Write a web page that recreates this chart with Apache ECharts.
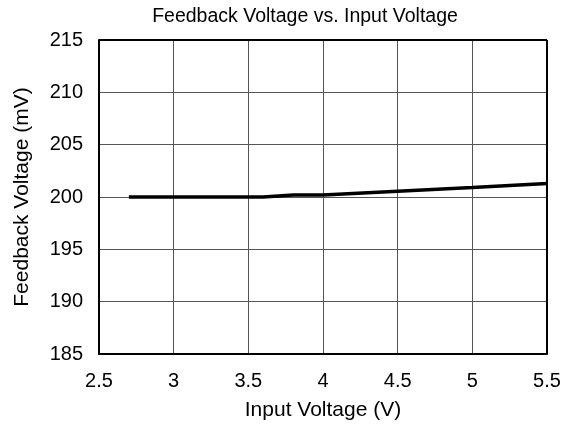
<!DOCTYPE html>
<html><head><meta charset="utf-8">
<script src="https://cdn.jsdelivr.net/npm/echarts@6/dist/echarts.min.js"></script>
<style>html,body{margin:0;padding:0;background:#fff}#c{width:574px;height:441px}</style>
</head><body><div id="c"></div>
<script>
var inputVoltage = [2.7, 3.0, 3.5, 3.6, 3.8, 4.0, 4.5, 5.0, 5.5];
var feedbackVoltage = [200.0, 200.0, 200.0, 200.0, 200.2, 200.2, 200.55, 200.9, 201.3];
var xTicks = [2.5, 3, 3.5, 4, 4.5, 5, 5.5];
var yTicks = [185, 190, 195, 200, 205, 210, 215];

var font = 'Liberation Sans, Arial, sans-serif';
var chart = echarts.init(document.getElementById('c'));
chart.setOption({
  animation: false,
  backgroundColor: '#fff',
  title: {
    text: 'Feedback Voltage vs. Input Voltage',
    left: 300, top: 2, textAlign: 'center',
    textStyle: {fontFamily: font, fontSize: 19.5, fontWeight: 'normal', color: '#000'}
  },
  grid: {left: 99, right: 27, top: 40, bottom: 87},
  xAxis: {
    type: 'value', min: 2.5, max: 5.5, interval: 0.5,
    name: 'Input Voltage (V)', nameLocation: 'middle', nameGap: 46,
    nameTextStyle: {fontFamily: font, fontSize: 21, color: '#000'},
    axisLine: {show: true, lineStyle: {color: '#000', width: 2}},
    axisTick: {show: false},
    axisLabel: {fontFamily: font, fontSize: 20, color: '#000', margin: 17,
      formatter: function(v){ return String(v); }},
    splitLine: {show: true, lineStyle: {color: '#555', width: 1}}
  },
  yAxis: {
    type: 'value', min: 185, max: 215, interval: 5,
    name: 'Feedback Voltage (mV)', nameLocation: 'middle', nameGap: 66,
    nameTextStyle: {fontFamily: font, fontSize: 21, color: '#000'},
    axisLine: {show: true, lineStyle: {color: '#000', width: 2}},
    axisTick: {show: false},
    axisLabel: {fontFamily: font, fontSize: 20, color: '#000', margin: 16},
    splitLine: {show: true, lineStyle: {color: '#555', width: 1}}
  },
  series: [{
    type: 'line',
    data: inputVoltage.map(function(x, i){ return [x, feedbackVoltage[i]]; }),
    showSymbol: false,
    lineStyle: {color: '#000', width: 3.5},
    z: 5
  }, {
    type: 'line', data: [], markLine: {silent: true, symbol: 'none', label: {show: false},
      lineStyle: {color: '#000', width: 2, type: 'solid'},
      data: [[{coord: [5.5, 185]}, {coord: [5.5, 215]}], [{coord: [2.5, 215]}, {coord: [5.5, 215]}]]}
  }]
});
</script></body></html>
